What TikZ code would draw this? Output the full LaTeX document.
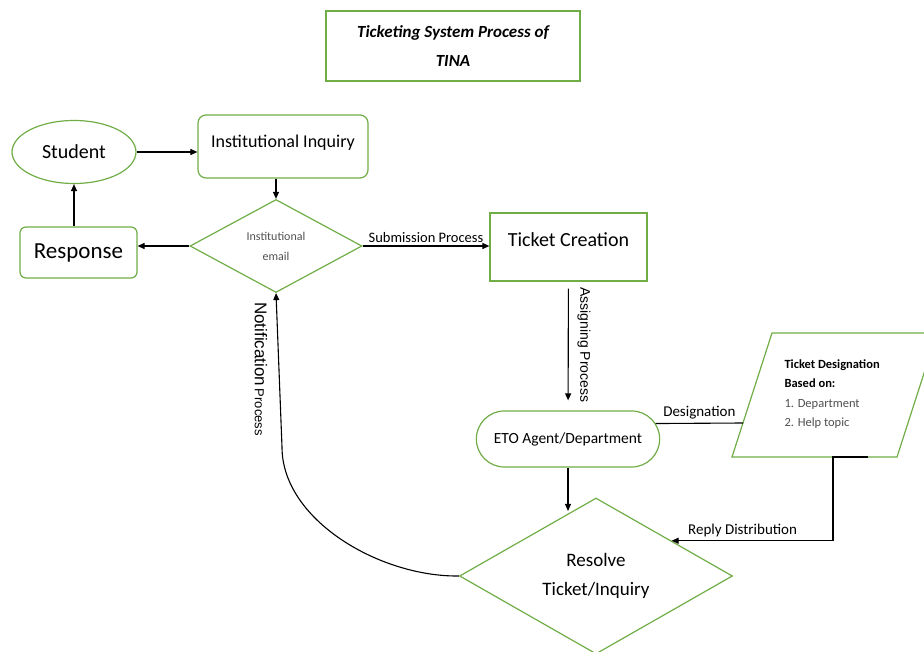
\documentclass[tikz,border=0pt]{standalone}
\usepackage{fontspec}
\setmainfont{Carlito}
\newfontfamily\arialfont{Liberation Sans}
\usetikzlibrary{arrows.meta,shapes.geometric,shapes.misc}
\definecolor{grn}{RGB}{112,173,71}
\definecolor{txtgray}{RGB}{80,80,80}
\newcommand{\fsz}[2]{\fontsize{#1}{#2}\selectfont}

\begin{document}
\begin{tikzpicture}[x=1pt,y=-1pt,>={Triangle[length=7pt,width=6pt]},
    grnline/.style={draw=grn,line width=1.2pt},
    box/.style={grnline,rectangle,inner sep=0pt},
    conn/.style={line width=1.1pt},
    lbl/.style={font=\fsz{15}{18}}]
    \useasboundingbox (0,0) rectangle (924,652);
    \clip (0,0) rectangle (924,652);

    \node[box,minimum width=254pt,minimum height=70pt,align=center,font=\fsz{17}{29}\bfseries\itshape] (title) at (453,46) {Ticketing System Process of\\TINA};

    \node[grnline,ellipse,minimum width=124pt,minimum height=63pt,font=\fsz{20}{24}] (stud) at (74,152) {Student};
    \node[box,rounded corners=8pt,minimum width=170pt,minimum height=63pt,font=\fsz{18}{22},text height=12.6pt,text depth=9.6pt] (inq) at (283,146.5) {Institutional Inquiry};
    \node[box,rounded corners=6pt,minimum width=117pt,minimum height=51pt,font=\fsz{23}{27}] (resp) at (78.5,252.5) {Response};
    \node[grnline,diamond,inner sep=0pt,minimum width=172pt,minimum height=93pt,align=center,text=txtgray,font=\fsz{12}{20}] (mail) at (276,246) {Institutional\\email};
    \node[box,minimum width=157pt,minimum height=68pt,font=\fsz{20}{24},text height=14pt,text depth=14pt] (tkt) at (568.5,247) {Ticket Creation};
    \node[grnline,rounded rectangle,minimum width=190pt,minimum height=56pt,font=\fsz{15.5}{19}] (eto) at (568,439) {ETO Agent/Department};
    \node[grnline,diamond,inner sep=0pt,minimum width=273pt,minimum height=156pt,align=center,font=\fsz{19}{29}] (res) at (596,576) {Resolve\\Ticket/Inquiry};

    % designation box
    \draw[grnline] (732,457) -- (772,333) -- (937,333) -- (897,457) -- cycle;
    \node[anchor=west,align=left,font=\fsz{12.5}{19.5}] (desig) at (781,394) {\textbf{Ticket Designation}\\\textbf{Based on:}\\\textcolor{txtgray}{1. Department}\\\textcolor{txtgray}{2. Help topic}};
    \coordinate (pl) at (743,423);
    \coordinate (pb) at (868,457);
    \coordinate (pc) at (833,457);
    \coordinate (bend) at (282,447);

    \draw[conn,->] (stud.east) -- (stud.east -| inq.west);
    \draw[conn,->] (mail.north |- inq.south) -- (mail.north);
    \draw[conn,->] (mail.west) -- (mail.west -| resp.east);
    \draw[conn,->] (resp.north -| stud.south) -- (stud.south);
    \draw[conn,->] (mail.east) -- node[above,font=\fsz{14.5}{17}] {Submission Process} (mail.east -| tkt.west);
    \draw[conn,->,shorten <=7pt,shorten >=10pt] (tkt) -- (eto);
    \node[rotate=-90,font=\arialfont\fsz{14}{17}] (asg) at (584,345) {Assigning Process};
    \draw[conn] (eto.10) -- node[above,lbl] {Designation} (pl);
    \draw[conn,->] (pb) -- (pc) |- node[pos=0.78,above,lbl] {Reply Distribution} (res.25);
    \draw[conn,->] (eto.south) -- (eto.south |- res.110);
    \draw[conn,->] (res.west) .. controls (380,577) and (282,520) .. (bend) -- (mail.south);
    % \draw[conn,->] (res.west) to[out=180,in=-90] (mail.south);
    \node[rotate=-90,font=\arialfont] (notif) at (261,369) {{\fsz{17}{20}Notification} {\fsz{13}{16}Process}};
\end{tikzpicture}
\end{document}
